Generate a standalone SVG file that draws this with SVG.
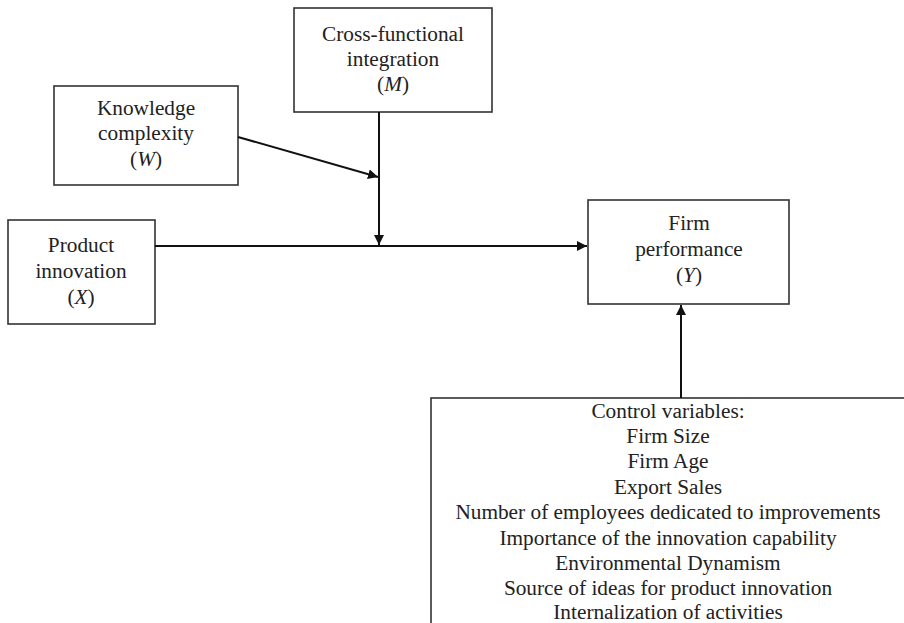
<svg xmlns="http://www.w3.org/2000/svg" width="904" height="623" viewBox="0 0 904 623">
<style>
.box{fill:#fff;stroke:#333;stroke-width:1.6}
.c{stroke:#111;stroke-width:2;fill:none}
</style>
<defs>
<marker id="ah" viewBox="0 0 10 10" refX="10" refY="5" markerWidth="10" markerHeight="10" markerUnits="userSpaceOnUse" orient="auto">
<path d="M0,0 L10,5 L0,10 z" fill="#111"/>
</marker>
</defs>
<rect width="904" height="623" fill="#fff"/>
<g id="M">
<rect class="box" x="294" y="8" width="198" height="104"/>
<text font-family="Liberation Serif, serif" font-size="21.3" fill="#222" text-anchor="middle" x="393" y="41">Cross-functional</text>
<text font-family="Liberation Serif, serif" font-size="21.3" fill="#222" text-anchor="middle" x="393" y="66">integration</text>
<text font-family="Liberation Serif, serif" font-size="21.3" fill="#222" text-anchor="middle" x="393" y="91">(<tspan font-style="italic">M</tspan>)</text>
</g>
<g id="W">
<rect class="box" x="54" y="86" width="184" height="99"/>
<text font-family="Liberation Serif, serif" font-size="21.3" fill="#222" text-anchor="middle" x="146" y="115">Knowledge</text>
<text font-family="Liberation Serif, serif" font-size="21.3" fill="#222" text-anchor="middle" x="146" y="140">complexity</text>
<text font-family="Liberation Serif, serif" font-size="21.3" fill="#222" text-anchor="middle" x="146" y="166">(<tspan font-style="italic">W</tspan>)</text>
</g>
<g id="X">
<rect class="box" x="8" y="220" width="147" height="104"/>
<text font-family="Liberation Serif, serif" font-size="21.3" fill="#222" text-anchor="middle" x="81" y="252">Product</text>
<text font-family="Liberation Serif, serif" font-size="21.3" fill="#222" text-anchor="middle" x="81" y="278">innovation</text>
<text font-family="Liberation Serif, serif" font-size="21.3" fill="#222" text-anchor="middle" x="81" y="304">(<tspan font-style="italic">X</tspan>)</text>
</g>
<g id="Y">
<rect class="box" x="588" y="200" width="201" height="104"/>
<text font-family="Liberation Serif, serif" font-size="21.3" fill="#222" text-anchor="middle" x="689" y="230">Firm</text>
<text font-family="Liberation Serif, serif" font-size="21.3" fill="#222" text-anchor="middle" x="689" y="256">performance</text>
<text font-family="Liberation Serif, serif" font-size="21.3" fill="#222" text-anchor="middle" x="689" y="282">(<tspan font-style="italic">Y</tspan>)</text>
</g>
<g id="controls">
<rect class="box" x="431" y="398" width="474" height="240"/>
<text font-family="Liberation Serif, serif" font-size="21.3" fill="#222" text-anchor="middle" x="668" y="418">Control variables:</text>
<text font-family="Liberation Serif, serif" font-size="21.3" fill="#222" text-anchor="middle" x="668" y="443">Firm Size</text>
<text font-family="Liberation Serif, serif" font-size="21.3" fill="#222" text-anchor="middle" x="668" y="468">Firm Age</text>
<text font-family="Liberation Serif, serif" font-size="21.3" fill="#222" text-anchor="middle" x="668" y="494">Export Sales</text>
<text font-family="Liberation Serif, serif" font-size="21.3" fill="#222" text-anchor="middle" x="668" y="519">Number of employees dedicated to improvements</text>
<text font-family="Liberation Serif, serif" font-size="21.3" fill="#222" text-anchor="middle" x="668" y="545">Importance of the innovation capability</text>
<text font-family="Liberation Serif, serif" font-size="21.3" fill="#222" text-anchor="middle" x="668" y="570">Environmental Dynamism</text>
<text font-family="Liberation Serif, serif" font-size="21.3" fill="#222" text-anchor="middle" x="668" y="595">Source of ideas for product innovation</text>
<text font-family="Liberation Serif, serif" font-size="21.3" fill="#222" text-anchor="middle" x="668" y="619">Internalization of activities</text>
</g>
<g id="connectors">
<line class="c" x1="155" y1="246" x2="587" y2="246" marker-end="url(#ah)"/>
<line class="c" x1="379" y1="112" x2="379" y2="245" marker-end="url(#ah)"/>
<line class="c" x1="238" y1="137" x2="378" y2="177" marker-end="url(#ah)"/>
<line class="c" x1="681" y1="398" x2="681" y2="305" marker-end="url(#ah)"/>
</g>
</svg>
